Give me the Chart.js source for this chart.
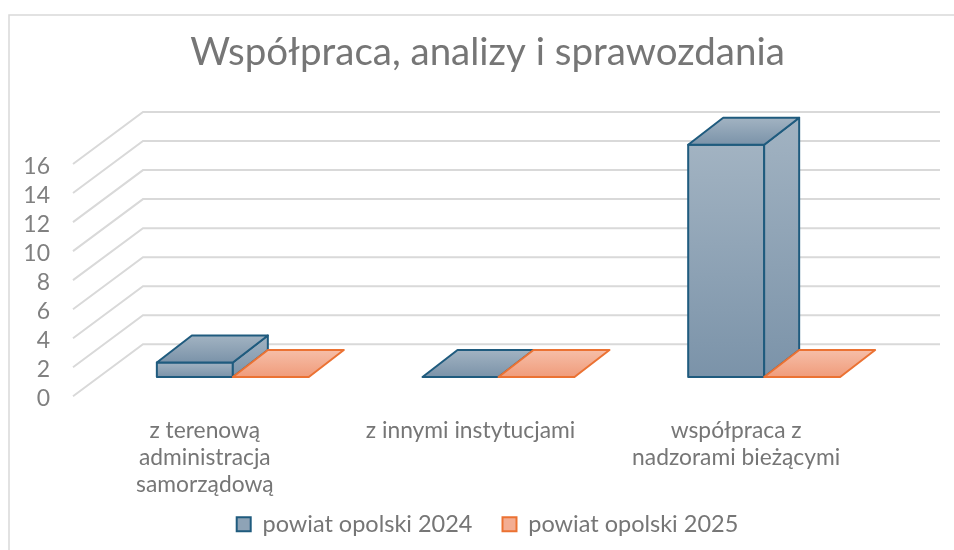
<!DOCTYPE html>
<html>
<head>
<meta charset="utf-8">
<script src="https://cdn.jsdelivr.net/npm/chart.js@4.4.1/dist/chart.umd.min.js"></script>
<style>
  body { margin: 0; background: #fff; }
  #wrap { width: 954px; height: 550px; }
</style>
</head>
<body>
<div id="wrap"><canvas id="myChart" width="954" height="550"></canvas></div>
<script>
const tytul = 'Współpraca, analizy i sprawozdania'
const kategorie = [['z terenową', 'administracja', 'samorządową'], 'z innymi instytucjami', ['współpraca z', 'nadzorami bieżącymi']]
const serie = ['powiat opolski 2024', 'powiat opolski 2025']
const rok2024 = [1, 0, 16]
const rok2025 = [0, 0, 0]
const wartosciOsi = [0, 2, 4, 6, 8, 10, 12, 14, 16]

// przesuniecia "glebi" (3D) wzgledem plaszczyzny slupkow
const GLEB = { x: 35, y: -27 }   // glebokosc slupka
const PRZOD = { x: -27, y: 19.3 } // przednia krawedz podlogi
const TYL = { x: 43, y: -32.7 }   // tylna sciana

const kolory = [
  { gora: '#a2b3c2', dol: '#7b93a9', linia: '#1f5b7e' },
  { gora: '#f6bea8', dol: '#f09c7b', linia: '#eb7233' }
]

const ctx = document.getElementById('myChart')

function prostopadloscian(c, el, k) {
  const x0 = el.x - el.width / 2, x1 = el.x + el.width / 2
  const top = el.y, bot = el.base
  const dx = GLEB.x, dy = GLEB.y
  let g
  c.lineWidth = 2
  c.lineJoin = 'round'
  c.strokeStyle = k.linia
  if (bot - top > 0.5) {
    // przod
    g = c.createLinearGradient(0, top, 0, bot)
    g.addColorStop(0, k.gora); g.addColorStop(1, k.dol)
    c.fillStyle = g
    c.beginPath()
    c.rect(x0, top, x1 - x0, bot - top)
    c.fill(); c.stroke()
    // bok
    g = c.createLinearGradient(0, top + dy, 0, bot)
    g.addColorStop(0, k.gora); g.addColorStop(1, k.dol)
    c.fillStyle = g
    c.beginPath()
    c.moveTo(x1, top); c.lineTo(x1 + dx, top + dy)
    c.lineTo(x1 + dx, bot + dy); c.lineTo(x1, bot)
    c.closePath()
    c.fill(); c.stroke()
  }
  // wierzch
  g = c.createLinearGradient(0, top + dy, 0, top)
  g.addColorStop(0, k.gora); g.addColorStop(1, k.dol)
  c.fillStyle = g
  c.beginPath()
  c.moveTo(x0, top); c.lineTo(x0 + dx, top + dy)
  c.lineTo(x1 + dx, top + dy); c.lineTo(x1, top)
  c.closePath()
  c.fill(); c.stroke()
}

const przestrzen = {
  id: 'przestrzen',
  beforeDraw(chart) {
    const c = chart.ctx
    c.save()
    c.strokeStyle = '#d9d9d9'
    c.lineWidth = 1.5
    c.strokeRect(9, 15, 1000, 600)
    c.restore()
  },
  beforeDatasetsDraw(chart) {
    const c = chart.ctx
    const a = chart.chartArea
    const y = chart.scales.y
    c.save()
    // siatka: sciana boczna + tylna
    c.strokeStyle = '#d9d9d9'
    c.lineWidth = 2
    y.ticks.forEach(t => {
      const py = y.getPixelForValue(t.value)
      c.beginPath()
      c.moveTo(a.left + PRZOD.x, py + PRZOD.y)
      c.lineTo(a.left + TYL.x, py + TYL.y)
      c.lineTo(a.right + TYL.x, py + TYL.y)
      c.stroke()
    })
    // slupki 3D
    chart.data.labels.forEach((l, i) => {
      chart.data.datasets.forEach((ds, d) => {
        const el = chart.getDatasetMeta(d).data[i]
        prostopadloscian(c, el, kolory[d])
      })
    })
    c.restore()
    return false
  }
}

Chart.defaults.font.family = 'Lato'

grafico = new Chart(ctx, {
  type: 'bar',
  data: {
    labels: kategorie,
    datasets: [{
      label: serie[0],
      data: rok2024,
      backgroundColor: '#8ea3b6',
      borderColor: kolory[0].linia,
      borderWidth: 2
    }, {
      label: serie[1],
      data: rok2025,
      backgroundColor: '#f3ad92',
      borderColor: kolory[1].linia,
      borderWidth: 2
    }]
  },
  options: {
    responsive: false,
    animation: false,
    categoryPercentage: 0.572,
    barPercentage: 1,
    layout: { padding: { left: 21, right: 0, top: 0, bottom: 4 } },
    plugins: {
      title: {
        display: true,
        text: tytul,
        color: '#767676',
        font: { size: 38.5, weight: 'normal' },
        padding: { top: 29, bottom: 69.5 }
      },
      legend: {
        position: 'bottom',
        labels: {
          boxWidth: 14,
          boxHeight: 14,
          padding: 30,
          color: '#767676',
          font: { size: 23.5 }
        }
      },
      tooltip: { enabled: false }
    },
    scales: {
      x: {
        grid: { display: false },
        border: { display: false },
        ticks: {
          color: '#767676',
          font: { size: 22.8, lineHeight: 1.184 },
          mirror: true,
          padding: -67,
          labelOffset: -28,
          maxRotation: 0,
          autoSkip: false
        },
        afterFit: s => { s.height = 105.5 }
      },
      y: {
        min: 0,
        max: 16,
        grid: { display: false, drawTicks: false },
        border: { display: false },
        ticks: {
          color: '#808080',
          font: { size: 23 },
          padding: 50,
          labelOffset: 22,
          autoSkip: false
        },
        afterBuildTicks: s => { s.ticks = wartosciOsi.map(v => ({ value: v })) },
        afterFit: s => { s.width = 79 }
      },
      yPrawa: {
        type: 'linear',
        position: 'right',
        grid: { display: false },
        border: { display: false },
        ticks: { display: false },
        afterFit: s => { s.width = 57 }
      }
    }
  },
  plugins: [przestrzen]
})
</script>
</body>
</html>
